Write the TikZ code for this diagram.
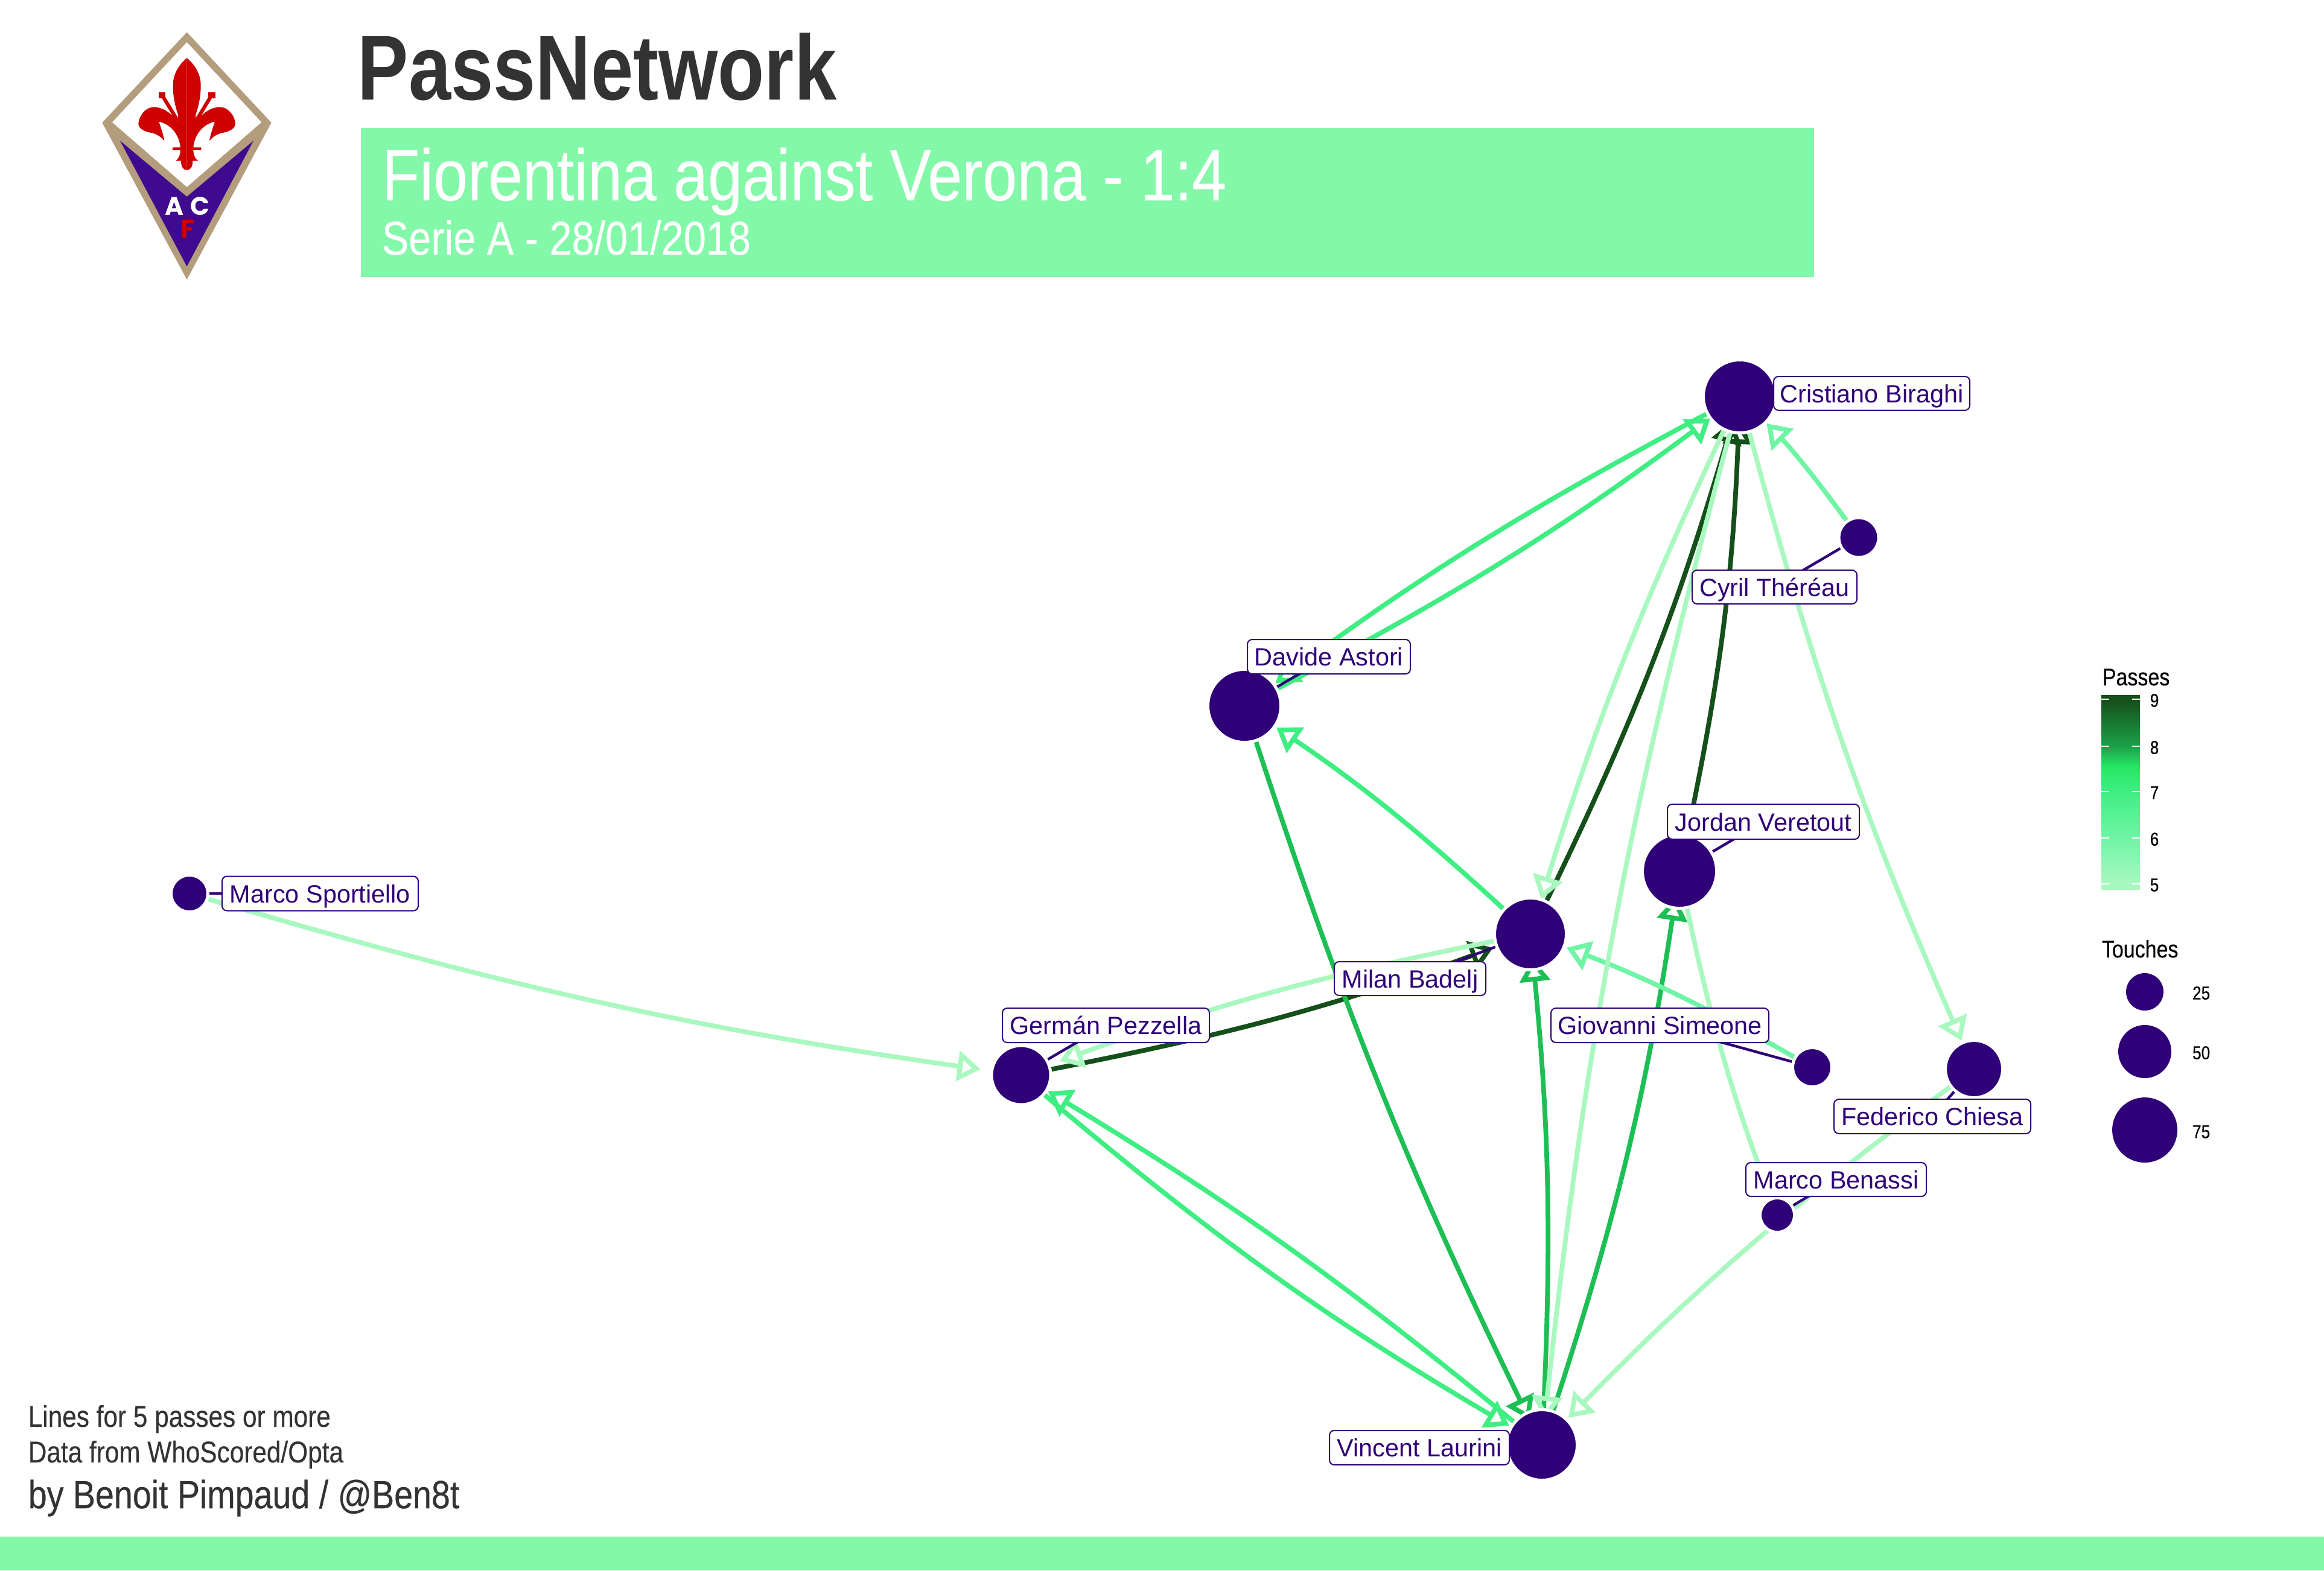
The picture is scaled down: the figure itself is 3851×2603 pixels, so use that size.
\documentclass[tikz,border=0pt]{standalone}
\usepackage{fontspec}
\setmainfont{Liberation Sans}
\newfontfamily\rcond[FakeStretch=0.85,FakeBold=0.3]{Liberation Sans}
\newfontfamily\rcondb[FakeStretch=0.827]{Liberation Sans}
\newfontfamily\crest{Poppins}
\usetikzlibrary{arrows.meta,backgrounds}
\definecolor{purp}{HTML}{2F0077}
\definecolor{banner}{HTML}{84F8A9}
\definecolor{ink}{HTML}{333333}
\definecolor{cdark}{HTML}{154F1A}
\definecolor{cgreen}{HTML}{1DBF55}
\definecolor{cmid}{HTML}{3FEE82}
\definecolor{clm}{HTML}{70F4A6}
\definecolor{clight}{HTML}{A9F8C0}
\definecolor{tan}{HTML}{B39D7C}
\definecolor{crestpurp}{HTML}{3F0A8F}
\definecolor{crestred}{HTML}{CE0000}
\definecolor{barbright}{HTML}{25E864}
\definecolor{barforest}{HTML}{1CA049}
\pgfdeclareverticalshading{passbar}{100bp}{
 color(0bp)=(clight); color(26.4bp)=(clight); color(38.2bp)=(clm);
 color(50.2bp)=(cmid); color(56.5bp)=(barbright); color(61.8bp)=(barforest);
 color(73.9bp)=(cdark); color(100bp)=(cdark)}
\tikzset{
 pl/.style={circle,fill=purp,draw=white,line width=1.25pt,inner sep=0pt,outer sep=0pt,minimum size=#1*0.25pt},
 lab/.style n args={2}{rounded corners=2pt,draw=purp,fill=white,line width=0.5pt,text=purp,
   font=\fontsize{10.35}{12}\selectfont,text height=7.5pt,text depth=0pt,inner sep=0pt,outer sep=0pt,minimum width=#1*0.25pt,minimum height=#2*0.25pt},
 passline/.style={line width=1.95pt,-{Triangle[open,length=9.5pt,width=12.5pt]}},
 leader/.style={draw=purp,line width=1.1pt},
 legtext/.style={inner sep=0pt,text=black,font=\rcond\fontsize{7.7}{9}\selectfont},
 legtitle/.style={inner sep=0pt,anchor=base west,text=black,font=\rcond\fontsize{10}{12}\selectfont},
 foot/.style={inner sep=0pt,anchor=base west,text=ink},
 crestletter/.style={inner sep=0pt,font=\crest\bfseries\fontsize{10.5}{12}\selectfont},
}
\newcommand{\passedge}[5]{\draw[passline,draw=#1,shorten >=#5*0.25pt] (#2.center) to[bend right=#4] (#3.center);}
\newcommand{\fleurhalf}{
 (629,288) .. controls (580,330) and (558,380) .. (560,430)
 .. controls (560,480) and (570,525) .. (585,570)
 -- (585,605)
 .. controls (545,555) and (500,530) .. (460,533)
 .. controls (420,535) and (390,580) .. (388,615)
 .. controls (388,640) and (420,655) .. (450,660)
 .. controls (480,665) and (505,685) .. (517,700)
 .. controls (512,670) and (500,635) .. (490,605)
 .. controls (540,615) and (590,660) .. (597,733)
 -- (558,733) -- (558,747) -- (597,747)
 .. controls (597,765) and (590,790) .. (573,800)
 -- (600,800) .. controls (600,830) and (612,846) .. (629,846) -- cycle}
\newcommand{\stamen}{
 \draw[crestred,line width=1.5pt] (583,600) -- (510,480);
 \fill[crestred] (488,458) rectangle (522,488);
}
\begin{document}
\begin{tikzpicture}[x=0.25pt,y=-0.25pt]
\useasboundingbox (0,0) rectangle (3851,2603);
% header
\fill[banner] (598,212) rectangle (3006,459);
\fill[banner] (0,2547) rectangle (3851,2603);
\node[inner sep=0pt,anchor=base west,text=ink,font=\rcondb\bfseries\fontsize{38.2}{40}\selectfont] (ttl) at (592,165) {PassNetwork};
\node[inner sep=0pt,anchor=base west,text=white,font=\rcond\fontsize{30.1}{32}\selectfont] (sub1) at (632,332) {Fiorentina against Verona - 1:4};
\node[inner sep=0pt,anchor=base west,text=white,font=\rcond\fontsize{19.6}{22}\selectfont] (sub2) at (632,422) {Serie A - 28/01/2018};
% footer text
\node[foot,font=\rcond\fontsize{12.45}{14}\selectfont] (f1) at (46,2365) {Lines for 5 passes or more};
\node[foot,font=\rcond\fontsize{12.45}{14}\selectfont] (f2) at (46,2424) {Data from WhoScored/Opta};
\node[foot,font=\rcond\fontsize{16.35}{18}\selectfont] (f3) at (46,2500) {by Benoit Pimpaud / @Ben8t};
% crest
\begin{scope}[shift={(100,0)},x=0.0833333pt,y=-0.0833333pt]
 \fill[tan] (629,160) -- (1049,610) -- (629,1390) -- (208,610) -- cycle;
 \fill[white] (629,210) -- (1000,608) -- (629,930) -- (258,608) -- cycle;
 \fill[crestpurp] (297,700) -- (629,978) -- (960,700) -- (629,1325) -- cycle;
 \fill[crestred] \fleurhalf;
 \stamen
 \begin{scope}[shift={(1258,0)},xscale=-1]
  \fill[crestred] \fleurhalf;
  \stamen
 \end{scope}
 \node[crestletter,text=white] (ca) at (566,1025) {A};
 \node[crestletter,text=white] (cc) at (695,1025) {C};
 \node[crestletter,text=crestred] (cf) at (632,1140) {F};
\end{scope}
% players
\node[pl=121] (biraghi) at (2883,657) {};
\node[pl=66] (thereau) at (3080,891) {};
\node[pl=121] (astori) at (2062,1170) {};
\node[pl=119] (badelj) at (2536,1548) {};
\node[pl=123] (veretout) at (2783,1444) {};
\node[pl=65] (simeone) at (3003,1769) {};
\node[pl=95] (chiesa) at (3271,1772) {};
\node[pl=57] (benassi) at (2945,2014) {};
\node[pl=117] (laurini) at (2555,2395) {};
\node[pl=98] (pezzella) at (1692,1782) {};
\node[pl=61] (sportiello) at (314,1481) {};
% labels
\node[lab={325}{56}] (lbiraghi) at (3101.5,652) {Cristiano Biraghi};
\node[lab={273}{56}] (lthereau) at (2940.5,973) {Cyril Théréau};
\node[lab={270}{57}] (lastori) at (2202,1088.5) {Davide Astori};
\node[lab={318}{58}] (lveretout) at (2922,1362) {Jordan Veretout};
\node[lab={251}{56}] (lbadelj) at (2336.5,1622) {Milan Badelj};
\node[lab={361}{57}] (lsimeone) at (2750.5,1699.5) {Giovanni Simeone};
\node[lab={326}{57}] (lchiesa) at (3202,1850.5) {Federico Chiesa};
\node[lab={299}{56}] (lbenassi) at (3042.5,1955) {Marco Benassi};
\node[lab={298}{57}] (llaurini) at (2352,2399.5) {Vincent Laurini};
\node[lab={343}{57}] (lpezzella) at (1832.5,1699.5) {Germán Pezzella};
\node[lab={325}{57}] (lsportiello) at (530.5,1481) {Marco Sportiello};
% connectors
\begin{scope}[on background layer]
 \fill[white] (0,0) rectangle (3851,2603);
 \passedge{cdark}{badelj}{biraghi}{5}{41}
 \passedge{cdark}{veretout}{biraghi}{5}{41}
 \passedge{cdark}{pezzella}{badelj}{4.8}{66}
 \passedge{cgreen}{laurini}{veretout}{4.9}{44}
 \passedge{cgreen}{laurini}{badelj}{4.2}{41}
 \passedge{cgreen}{astori}{laurini}{4}{46}
 \passedge{cmid}{astori}{biraghi}{4.6}{61}
 \passedge{cmid}{biraghi}{astori}{4.4}{64}
 \passedge{cmid}{pezzella}{laurini}{5}{63}
 \passedge{cmid}{laurini}{pezzella}{4.2}{52}
 \passedge{cmid}{badelj}{astori}{4.5}{64}
 \passedge{clm}{thereau}{biraghi}{4.5}{63}
 \passedge{clm}{simeone}{badelj}{4.5}{64}
 \passedge{clight}{biraghi}{badelj}{4.1}{60}
 \passedge{clight}{biraghi}{laurini}{4.5}{43}
 \passedge{clight}{biraghi}{chiesa}{4.5}{51}
 \passedge{clight}{chiesa}{laurini}{4.5}{63}
 \passedge{clight}{veretout}{benassi}{4.5}{36}
 \passedge{clight}{badelj}{pezzella}{4.5}{68}
 \passedge{clight}{sportiello}{pezzella}{4.2}{68}
 \draw[leader] (biraghi.center) -- (lbiraghi.center);
 \draw[leader] (thereau.center) -- (lthereau.center);
 \draw[leader] (astori.center) -- (lastori.center);
 \draw[leader] (badelj.center) -- (lbadelj.center);
 \draw[leader] (veretout.center) -- (lveretout.center);
 \draw[leader] (simeone.center) -- (lsimeone.center);
 \draw[leader] (chiesa.center) -- (lchiesa.center);
 \draw[leader] (benassi.center) -- (lbenassi.center);
 \draw[leader] (laurini.center) -- (llaurini.center);
 \draw[leader] (pezzella.center) -- (lpezzella.center);
 \draw[leader] (sportiello.center) -- (lsportiello.center);
\end{scope}
% legend
\node[legtitle] (lp) at (3483,1136) {Passes};
\shade[shading=passbar] (3482,1152) rectangle (3546,1474);
\foreach \yy/\val in {1159/9,1237/8,1312/7,1389/6,1465/5}{
 \draw[white,line width=0.4pt] (3482,\yy) -- (3495,\yy) (3533,\yy) -- (3546,\yy);
 \node[legtext,anchor=center] (tick\val) at (3570,\yy+2) {\val};
}
\node[legtitle] (lt) at (3482,1587) {Touches};
\node[circle,fill=purp,inner sep=0pt,minimum size=15.5pt] (t25) at (3554,1644) {};
\node[circle,fill=purp,inner sep=0pt,minimum size=22pt] (t50) at (3554,1743) {};
\node[circle,fill=purp,inner sep=0pt,minimum size=27pt] (t75) at (3554,1873) {};
\node[legtext,anchor=east] (n25) at (3663,1646) {25};
\node[legtext,anchor=east] (n50) at (3663,1745) {50};
\node[legtext,anchor=east] (n75) at (3663,1876) {75};
\end{tikzpicture}
\end{document}
